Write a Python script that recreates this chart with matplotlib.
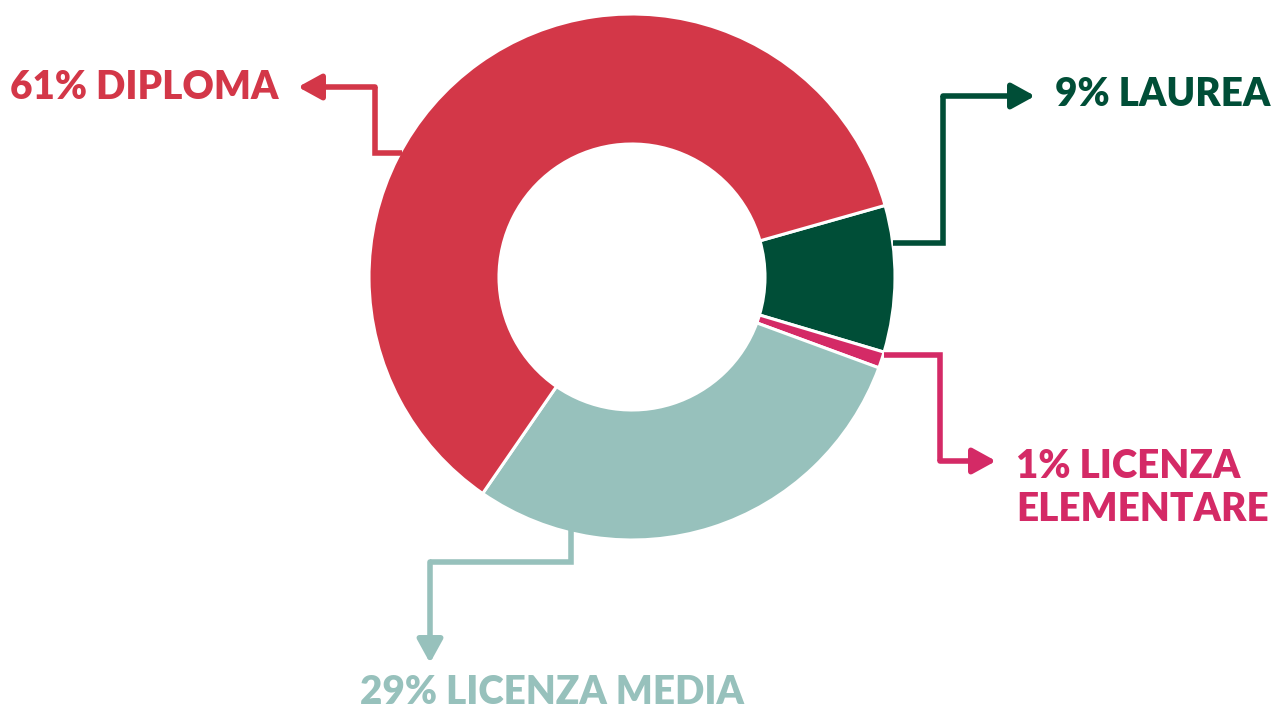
import matplotlib
matplotlib.use("Agg")
import matplotlib.pyplot as plt

# shares, clockwise from the laurea wedge
labels = ["9% LAUREA", "1% LICENZA\nELEMENTARE", "29% LICENZA MEDIA", "61% DIPLOMA"]
shares = [9, 1, 29, 61]
colors = ["#004E37", "#D42A66", "#97C1BC", "#D33748"]

W, H = 1273, 708
fig = plt.figure(figsize=(W / 100, H / 100), dpi=100)
ax = fig.add_axes([0, 0, 1, 1])

cx, cy, R = 632, H - 277, 263
ax.pie(shares, colors=colors, startangle=15.8, counterclock=False,
       center=(cx, cy), radius=R,
       wedgeprops=dict(width=R - 133, edgecolor="white", linewidth=2.2))
ax.set_xlim(0, W)
ax.set_ylim(0, H)
ax.set_aspect("equal")
ax.axis("off")

lw = 4.0
font = dict(family=["Lato", "DejaVu Sans"], fontweight="heavy", fontsize=27.8)


def connector(pts, color):
    # elbow line, arrow head on the last segment
    xs = [p[0] for p in pts[:-1]]
    ys = [H - p[1] for p in pts[:-1]]
    ax.plot(xs, ys, color=color, lw=lw, solid_joinstyle="miter", solid_capstyle="butt")
    ax.annotate("", xy=(pts[-1][0], H - pts[-1][1]), xytext=(pts[-2][0], H - pts[-2][1]),
                arrowprops=dict(arrowstyle="-|>,head_length=1.0,head_width=0.55",
                                mutation_scale=14, color=color, lw=lw,
                                shrinkA=0, shrinkB=0))


def label(text, x, baselines, color, ha="left"):
    for line, yb in zip(text.split("\n"), baselines):
        ax.text(x, H - yb, line, color=color, ha=ha, va="baseline", **font)


# diploma
connector([(402, 153), (375, 153), (375, 87), (298, 87)], colors[3])
label(labels[3], 10, [99], colors[3])

# laurea
connector([(893, 243), (943, 243), (943, 96), (1035, 96)], colors[0])
label(labels[0], 1055, [106], colors[0])

# licenza elementare
connector([(884, 355), (940, 355), (940, 461), (996, 461)], colors[1])
label(labels[1], 1016, [478, 521], colors[1])

# licenza media
connector([(571, 530), (571, 562), (430, 562), (430, 663)], colors[2])
label(labels[2], 552, [704], colors[2], ha="center")

fig.savefig("out.png", dpi=100)
